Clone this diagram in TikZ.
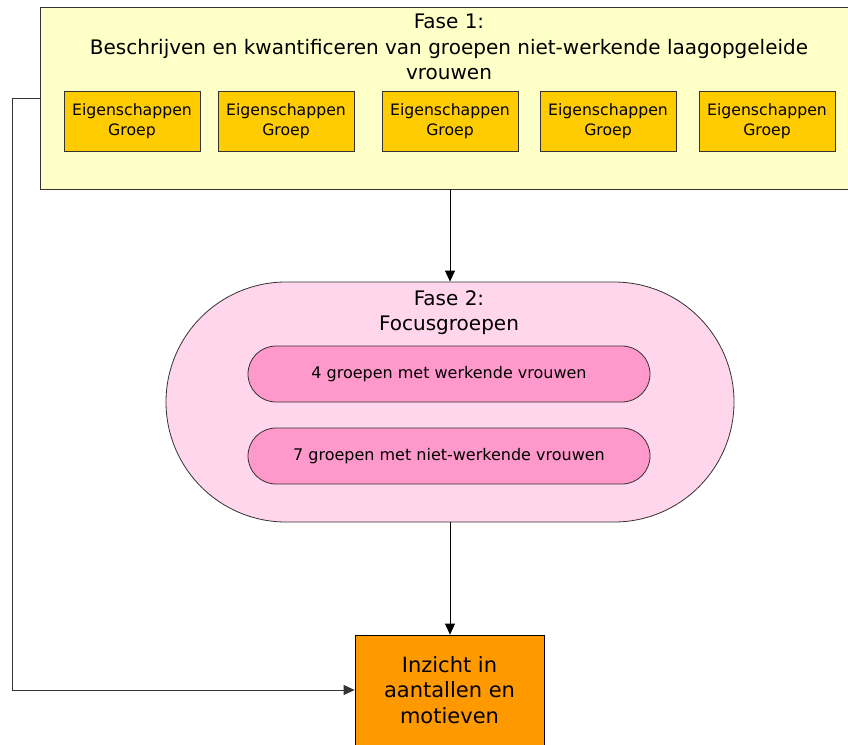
\documentclass[tikz,border=0pt]{standalone}
\usepackage{fontspec}
\setmainfont{DejaVu Sans}
\usetikzlibrary{arrows.meta}
\definecolor{faseyellow}{HTML}{FFFFC8}
\definecolor{groepgold}{HTML}{FFCC00}
\definecolor{faselpink}{HTML}{FFD6EB}
\definecolor{pillpink}{HTML}{FF99CC}
\definecolor{resultorange}{HTML}{FF9900}
\tikzset{
  phasebox/.style={draw=black!80, line width=0.8pt, fill=faseyellow, inner sep=0pt},
  groupbox/.style={draw=black!80, line width=0.8pt, fill=groepgold, minimum width=136pt,
    minimum height=60pt, inner sep=0pt, align=center, font=\fontsize{15.7}{20}\selectfont},
  stadium/.style={draw=black!80, line width=0.8pt, fill=faselpink, minimum width=568pt,
    minimum height=240pt, rounded corners=120pt, inner sep=0pt},
  pill/.style={draw=black!80, line width=0.8pt, fill=pillpink, minimum width=402pt,
    minimum height=56pt, rounded corners=28pt, inner sep=0pt, font=\fontsize{16}{20}\selectfont},
  resultbox/.style={draw=black, line width=0.8pt, fill=resultorange, minimum width=189pt,
    minimum height=110pt, inner sep=0pt, align=center, font=\fontsize{21}{25.5}\selectfont},
  titletext/.style={align=center, inner sep=0pt, font=\fontsize{20}{25.5}\selectfont},
  flow/.style={draw=black, line width=0.8pt, -{Triangle[length=11pt,width=10pt]}},
}
\begin{document}
\begin{tikzpicture}[x=1pt,y=-1pt]
\useasboundingbox (0,0) rectangle (848,744);
\clip (0,0) rectangle (848,744);
\fill[white] (0,0) rectangle (848,744);

% Fase 1
\node[phasebox, minimum width=820pt, minimum height=182pt] (fase1) at (450,98) {};
\node[titletext, anchor=north] (fase1title) at (449,14)
  {Fase 1:\\Beschrijven en kwantificeren van groepen niet-werkende laagopgeleide\\vrouwen};
\node[groupbox] (g1) at (132,121) {Eigenschappen\\Groep};
\node[groupbox] (g2) at (286,121) {Eigenschappen\\Groep};
\node[groupbox] (g3) at (450,121) {Eigenschappen\\Groep};
\node[groupbox] (g4) at (608,121) {Eigenschappen\\Groep};
\node[groupbox] (g5) at (767,121) {Eigenschappen\\Groep};

% Fase 2
\node[stadium] (fase2) at (450,402) {};
\node[titletext, anchor=north] (fase2title) at (449,290) {Fase 2:\\Focusgroepen};
\node[pill] (p1) at (449,374) {4 groepen met werkende vrouwen};
\node[pill] (p2) at (449,456) {7 groepen met niet-werkende vrouwen};

% Resultaat
\node[resultbox] (result) at (449.5,690) {Inzicht in\\aantallen en\\motieven};

% Verbindingen
\draw[flow] (fase1.south -| fase2.north) -- (fase2.north);
\draw[flow] (fase2.south) -- (fase2.south |- result.north);
\coordinate (bendtop) at (12,98);
\coordinate (bendbottom) at (12,690);
\draw[flow, draw=black!80] (fase1.west) -- (bendtop) -- (bendbottom) -- (result.west);
\end{tikzpicture}
\end{document}
